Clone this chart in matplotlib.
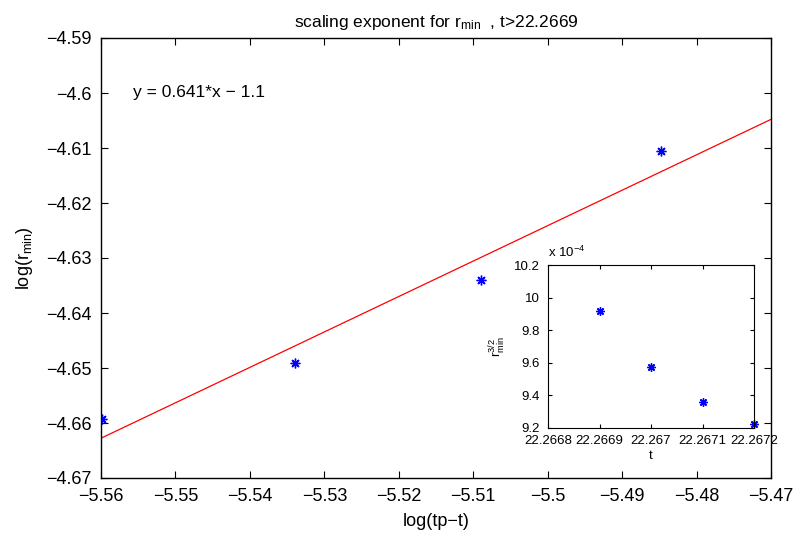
import numpy as np
import matplotlib
matplotlib.use('Agg')
import matplotlib.pyplot as plt

plt.rcParams['font.family'] = ['Liberation Sans', 'DejaVu Sans']
plt.rcParams['mathtext.fontset'] = 'custom'
plt.rcParams['mathtext.rm'] = 'Liberation Sans'
plt.rcParams['mathtext.it'] = 'Liberation Sans'

# main data: log(tp - t) vs log(r_min)
log_dt = [-5.5598, -5.5340, -5.5090, -5.4848]
log_rmin = [-4.6593, -4.6491, -4.6340, -4.6105]

# inset data: t vs r_min^(3/2) (in units of 1e-4)
t_vals = [22.2669, 22.2670, 22.2671, 22.2672]
r32 = [9.917, 9.577, 9.360, 9.223]

xticks = [-5.56, -5.55, -5.54, -5.53, -5.52, -5.51, -5.5, -5.49, -5.48, -5.47]
yticks = [-4.67, -4.66, -4.65, -4.64, -4.63, -4.62, -4.61, -4.6, -4.59]
ins_xt = [22.2668, 22.2669, 22.2670, 22.2671, 22.2672]
ins_yt = [9.2, 9.4, 9.6, 9.8, 10.0, 10.2]

fit_label = 'y = 0.641*x \u2212 1.1'


def fmt(v):
    return ('%g' % v).replace('-', '\u2212')


slope, intercept = np.polyfit(log_dt, log_rmin, 1)

fig = plt.figure(figsize=(7.94, 5.35), dpi=100)
ax = fig.add_axes([101 / 794, 57 / 535, 670 / 794, 440 / 535])

xl = np.array([-5.56, -5.47])
ax.plot(xl, slope * xl + intercept, color='red', lw=0.9)
ax.plot(log_dt, log_rmin, ls='none', marker=(8, 2, 0), color='blue',
        markersize=7, mew=1.0)

ax.set_xlim(-5.56, -5.47)
ax.set_ylim(-4.67, -4.59)
ax.set_xticks(xticks)
ax.set_xticklabels([fmt(v) for v in xticks])
ax.set_yticks(yticks)
ax.set_yticklabels([fmt(v) for v in yticks])
ax.tick_params(direction='in', top=True, right=True, labelsize=13, length=5, pad=7)
for s in ax.spines.values():
    s.set_linewidth(1.0)

ax.set_xlabel('log(tp\u2212t)', fontsize=13, labelpad=6)
ax.set_ylabel('log(r$_{\\mathregular{min}}$)', fontsize=13, labelpad=8)
ax.set_title('scaling exponent for r$_{\\mathregular{min}}$  , t>22.2669', fontsize=12.5, pad=8)
ax.text(-5.5557, -4.6, fit_label, fontsize=12.5, va='center')

# inset
ins = fig.add_axes([548 / 794, 107 / 535, 206 / 794, 163 / 535])
ins.plot(t_vals, r32, ls='none', marker=(8, 2, 0), color='blue',
         markersize=6, mew=1.0, clip_on=False)
ins.set_xlim(22.2668, 22.2672)
ins.set_ylim(9.2, 10.2)
ins.set_xticks(ins_xt)
ins.set_xticklabels([fmt(v) for v in ins_xt])
ins.set_yticks(ins_yt)
ins.set_yticklabels([fmt(v) for v in ins_yt])
ins.tick_params(axis='x', pad=5)
ins.tick_params(axis='y', pad=6)
ins.tick_params(direction='in', top=True, right=True, labelsize=9.5, length=3)
ins.set_xlabel('t', fontsize=9.5, labelpad=2)
ins.set_ylabel('r$_{\\mathregular{min}}^{\\mathregular{3/2}}$', fontsize=9.5, labelpad=4)
ins.text(0.0, 1.03, 'x 10$^{\\mathregular{\u22124}}$', transform=ins.transAxes,
         fontsize=9.5, va='bottom', ha='left')

fig.savefig('out.png', dpi=100)
